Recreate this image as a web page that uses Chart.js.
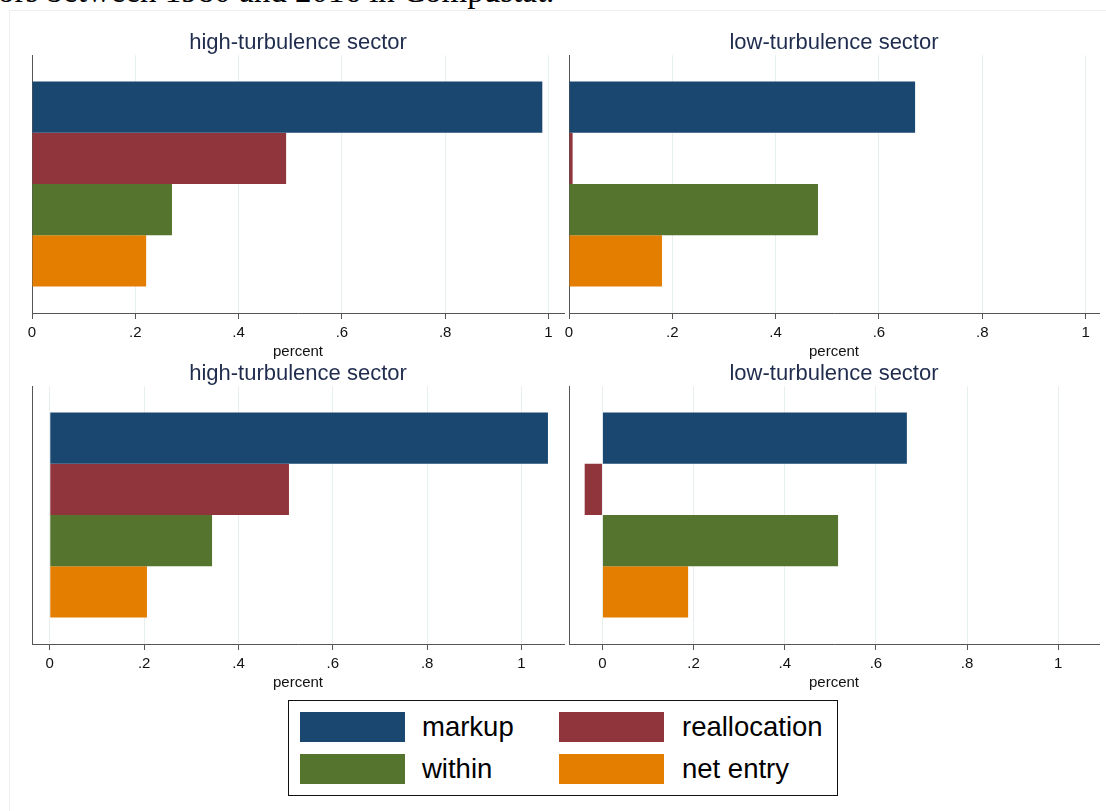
<!DOCTYPE html>
<html>
<head>
<meta charset="utf-8">
<script src="https://cdn.jsdelivr.net/npm/chart.js@4.4.1/dist/chart.umd.min.js"></script>
<style>
  html, body { margin: 0; padding: 0; background: #fff; }
  body { width: 1106px; height: 811px; overflow: hidden; position: relative;
         font-family: "Liberation Sans", Arial, sans-serif; }
  #caption { position: absolute; left: -2px; top: -25px; white-space: nowrap;
             font-family: "Liberation Serif", "DejaVu Serif", serif; font-size: 33px; line-height: 33px; color: #000; }
  #frame { position: absolute; left: 9px; top: 10px; width: 1200px; height: 1000px;
           border-left: 1px solid #efefef; border-top: 1px solid #efefef; }
  canvas { position: absolute; }
  #legend { position: absolute; left: 288px; top: 700px; width: 548px; height: 94px;
            border: 1.5px solid #111; box-sizing: content-box; }
  .swatch { position: absolute; width: 105px; height: 30px; }
  .label { position: absolute; height: 30px; line-height: 30px; font-size: 27.5px; color: #000; white-space: nowrap; }
</style>
</head>
<body>
<div id="caption">ors between 1980 and 2016 in Compustat.</div>
<div id="frame"></div>
<canvas id="pTL" width="566" height="361" style="left:0px;top:0px;width:566px;height:361px"></canvas>
<canvas id="pTR" width="566" height="361" style="left:540px;top:0px;width:566px;height:361px"></canvas>
<canvas id="pBL" width="566" height="361" style="left:0px;top:331px;width:566px;height:361px"></canvas>
<canvas id="pBR" width="566" height="361" style="left:540px;top:331px;width:566px;height:361px"></canvas>
<div id="legend"></div>

<script>
// Decomposition components and their colours
const components = ['markup', 'reallocation', 'within', 'net entry'];
const componentColors = ['#1a476f', '#90353b', '#55752f', '#e37e00'];

// Contributions (percent) by sector, upper and lower row
const highTurbulenceTop    = [0.988, 0.492, 0.271, 0.221];
const lowTurbulenceTop     = [0.670, 0.007, 0.482, 0.180];
const highTurbulenceBottom = [1.056, 0.507, 0.344, 0.206];
const lowTurbulenceBottom  = [0.668, -0.039, 0.517, 0.188];

// Axis ticks
const tickValues = [0, 0.2, 0.4, 0.6, 0.8, 1];
const tickLabels = ['0', '.2', '.4', '.6', '.8', '1'];

const sectorTitles = ['high-turbulence sector', 'low-turbulence sector'];
const axisTitle = 'percent';

const FONT = '"Liberation Sans", Arial, sans-serif';
const AXIS_COLOR = '#555555';
const GRID_COLOR = '#e8eff1';

function makePanel(canvasId, title, values, xMin, xMax, padLeft, padRight) {
  new Chart(document.getElementById(canvasId), {
    type: 'bar',
    data: {
      labels: [''],
      datasets: components.map((name, i) => ({
        label: name,
        data: [values[i]],
        backgroundColor: componentColors[i],
        borderWidth: 0,
        categoryPercentage: 0.795,
        barPercentage: 1.0
      }))
    },
    options: {
      indexAxis: 'y',
      responsive: false,
      animation: false,
      events: [],
      layout: { padding: { left: padLeft, right: padRight, top: 0, bottom: 0 } },
      plugins: {
        legend: { display: false },
        tooltip: { enabled: false },
        title: {
          display: true,
          text: title,
          fullSize: false,
          color: '#1f2c4d',
          font: { family: FONT, size: 22, weight: 'normal', lineHeight: 1.1 },
          padding: { top: 31, bottom: 0 }
        }
      },
      scales: {
        x: {
          type: 'linear',
          min: xMin,
          max: xMax,
          afterBuildTicks: (axis) => { axis.ticks = tickValues.map(v => ({ value: v })); },
          ticks: {
            autoSkip: false,
            maxRotation: 0,
            padding: 5,
            color: '#111',
            font: { family: FONT, size: 15, lineHeight: 1.2 },
            callback: (value) => {
              const k = tickValues.findIndex(t => Math.abs(t - value) < 1e-9);
              return k >= 0 ? tickLabels[k] : '';
            }
          },
          grid: {
            color: GRID_COLOR,
            lineWidth: 1,
            drawTicks: true,
            tickLength: 6,
            tickColor: AXIS_COLOR,
            tickWidth: 1
          },
          border: { display: true, color: AXIS_COLOR, width: 1 },
          title: {
            display: true,
            text: axisTitle,
            color: '#111',
            font: { family: FONT, size: 15, lineHeight: 1.2 },
            padding: { top: -4, bottom: 0 }
          }
        },
        y: {
          type: 'category',
          ticks: { display: false },
          grid: { display: false, drawTicks: false },
          border: { display: true, color: AXIS_COLOR, width: 1 }
        }
      }
    }
  });
}

makePanel('pTL', sectorTitles[0], highTurbulenceTop,    0,       1.03,  32, 2);
makePanel('pTR', sectorTitles[1], lowTurbulenceTop,     0,       1.026, 29, 7);
makePanel('pBL', sectorTitles[0], highTurbulenceBottom, -0.0377, 1.09,  32, 2);
makePanel('pBR', sectorTitles[1], lowTurbulenceBottom,  -0.0734, 1.0896, 29, 7);

// Legend: two columns, two rows
const legend = document.getElementById('legend');
const colLeft = [11, 270];      // swatch offsets inside the box
const textLeft = [133, 393];
const rowTop = [11, 53];
components.forEach((name, i) => {
  const col = i % 2, row = Math.floor(i / 2);
  const sw = document.createElement('div');
  sw.className = 'swatch';
  sw.style.left = colLeft[col] + 'px';
  sw.style.top = rowTop[row] + 'px';
  sw.style.background = componentColors[i];
  legend.appendChild(sw);
  const tx = document.createElement('div');
  tx.className = 'label';
  tx.style.left = textLeft[col] + 'px';
  tx.style.top = rowTop[row] + 'px';
  tx.textContent = name;
  legend.appendChild(tx);
});
</script>
</body>
</html>
